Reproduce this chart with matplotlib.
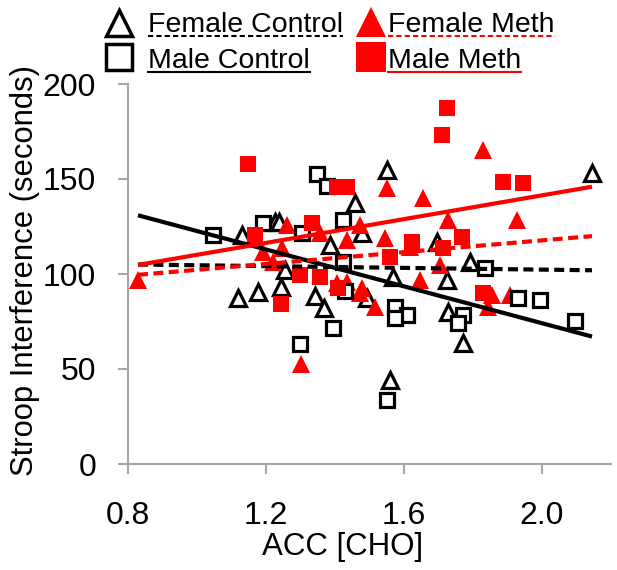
import numpy as np
import matplotlib.pyplot as plt
from matplotlib.lines import Line2D

plt.rcParams['font.family'] = ['Liberation Sans', 'DejaVu Sans']

# values
fc_x = [1.130, 1.119, 1.177, 1.226, 1.238, 1.243, 1.255, 1.342, 1.368, 1.386, 1.458,
        1.478, 1.493, 1.551, 1.559, 1.568, 1.696, 1.725, 1.728, 1.771, 1.791, 2.145]
fc_y = [120.5, 87.4, 90.5, 127.4, 127.4, 93.2, 102.1, 88.4, 82.1, 115.3, 137.4,
        121.6, 87.4, 154.7, 44.2, 98.4, 116.8, 96.8, 80.0, 63.7, 106.3, 153.2]

mc_x = [1.046, 1.191, 1.304, 1.348, 1.377, 1.423, 1.423, 1.299, 1.394, 1.429, 1.574,
        1.609, 1.574, 1.771, 1.757, 1.835, 1.930, 1.994, 2.096, 1.551]
mc_y = [120.5, 126.8, 121.6, 152.6, 146.3, 128.4, 106.3, 63.2, 71.6, 91.0, 82.6,
        78.4, 76.8, 78.4, 74.2, 103.2, 87.4, 86.3, 75.3, 33.7]

fm_x = [0.829, 1.261, 1.357, 1.435, 1.246, 1.191, 1.220, 1.301, 1.435, 1.472, 1.472,
        1.545, 1.617, 1.704, 1.646, 1.855, 1.843, 1.907, 1.406, 1.478, 1.516, 1.829,
        1.551, 1.655, 1.728, 1.928]
fm_y = [96.8, 125.8, 121.6, 117.9, 113.7, 111.6, 106.3, 52.6, 95.8, 90.0, 125.8,
        118.9, 114.2, 104.7, 96.8, 88.9, 82.6, 88.9, 95.3, 92.6, 82.6, 165.3,
        145.3, 140.0, 128.4, 128.4]

mm_x = [1.148, 1.406, 1.435, 1.333, 1.168, 1.299, 1.357, 1.243, 1.409, 1.623, 1.768,
        1.559, 1.713, 1.829, 1.725, 1.710, 1.887, 1.945]
mm_y = [157.9, 145.8, 145.8, 126.8, 120.5, 99.5, 98.4, 84.2, 92.6, 116.8, 119.5,
        108.9, 113.7, 90.0, 187.4, 173.2, 148.4, 147.9]

# trendlines (slope, intercept) as seen in the picture
fit_slope = {"fc": -2.3, "mc": -48.5, "fm": 15.5, "mm": 31.3}
fit_icept = {"fc": 106.9, "mc": 171.1, "fm": 86.7, "mm": 78.8}

W, H = 617, 570
fig = plt.figure(figsize=(W / 100, H / 100), dpi=100)
ax = fig.add_axes([128 / W, 1 - 464 / H, (611 - 128) / W, (464 - 84) / H])

red = '#ff0000'
ms = 11.5
ax.plot(fc_x, fc_y, '^', ms=ms, mfc='white', mec='black', mew=2.3, ls='none', zorder=3, clip_on=False)
ax.plot(fm_x, fm_y, '^', ms=ms + 1.5, mfc=red, mec=red, mew=0, ls='none', zorder=3, clip_on=False)
ax.plot(mc_x, mc_y, 's', ms=ms - 1.5, mfc='white', mec='black', mew=2.3, ls='none', zorder=3, clip_on=False)
ax.plot(mm_x, mm_y, 's', ms=ms + 0.5, mfc=red, mec=red, mew=0, ls='none', zorder=3, clip_on=False)

all_x = fc_x + mc_x + fm_x + mm_x
xs = np.array([min(all_x), max(all_x)])
styles = {"fc": ('black', True), "mc": ('black', False), "fm": (red, True), "mm": (red, False)}
for k, (c, dashed) in styles.items():
    ys = fit_slope[k] * xs + fit_icept[k]
    ln, = ax.plot(xs, ys, color=c, lw=3, zorder=4, solid_capstyle='butt')
    if dashed:
        ln.set_dashes((2.4, 1.3))

ax.set_xlim(0.8, 2.2)
ax.set_ylim(0, 200)
ax.set_xticks([0.8, 1.2, 1.6, 2.0])
ax.set_xticklabels(['0.8', '1.2', '1.6', '2.0'])
ax.set_yticks([0, 50, 100, 150, 200])
for s in ['top', 'right']:
    ax.spines[s].set_visible(False)
for s in ['left', 'bottom']:
    ax.spines[s].set_color('#a6a6a6')
    ax.spines[s].set_linewidth(1.5)
ax.tick_params(axis='x', direction='out', length=7, width=1.5, color='#a6a6a6',
               labelsize=23, pad=20)
ax.tick_params(axis='y', direction='out', length=7, width=1.5, color='#a6a6a6',
               labelsize=23, pad=16)

ax.set_xlabel('ACC [CHO]', fontsize=22.5, va='top')
ax.xaxis.set_label_coords(0.445, -0.18)
ax.set_ylabel('Stroop Interference (seconds)', fontsize=22.3)
ax.yaxis.set_label_coords(-0.182, 0.51)

# legend drawn by hand above the plot
def fx(px):
    return px / W

def fy(py):
    return 1 - py / H

leg = [
    ("Female Control", '^', 'white', 'black', (119, 23), (148, 32), 'black', True),
    ("Male Control", 's', 'white', 'black', (119, 57), (148, 68), 'black', False),
    ("Female Meth", '^', red, red, (371, 22), (388, 32), red, True),
    ("Male Meth", 's', red, red, (371, 57), (388, 68), red, False),
]
texts = []
for label, mk, fcol, ecol, mpos, tpos, lc, dashed in leg:
    filled = fcol != 'white'
    fig.add_artist(Line2D([fx(mpos[0])], [fy(mpos[1])], marker=mk,
                          ms=22 if filled else 18.5, mfc=fcol, mec=ecol,
                          mew=0 if filled else 2.5, ls='none'))
    t = fig.text(fx(tpos[0]), fy(tpos[1]), label, fontsize=20.5, va='baseline', ha='left')
    texts.append((t, lc, dashed, tpos[1]))

fig.canvas.draw()
r = fig.canvas.get_renderer()
for t, lc, dashed, base in texts:
    bb = t.get_window_extent(renderer=r)
    x0, x1 = bb.x0 / W, bb.x1 / W
    uy = fy(base + 4)
    ul = Line2D([x0, x1], [uy, uy], color=lc, lw=1.5)
    if dashed:
        ul.set_dashes((2.5, 1.5))
    fig.add_artist(ul)

fig.savefig('out.png', dpi=100)
